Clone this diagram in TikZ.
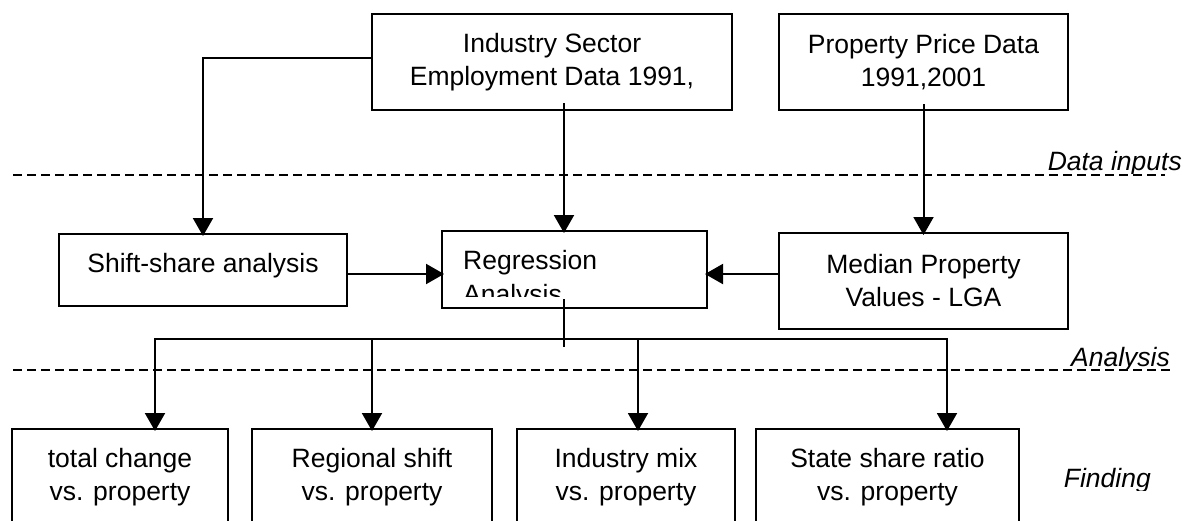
\documentclass[tikz,border=0pt]{standalone}
\usepackage{fontspec}
\setmainfont{Liberation Sans}
\usetikzlibrary{arrows.meta}
\begin{document}
\begin{tikzpicture}[x=1pt,y=-1pt,
  txt/.style={font=\fontsize{26.5}{33}\selectfont, inner sep=0pt},
  box/.style={txt, draw, line width=2pt, align=center},
  wire/.style={line width=2pt},
  arr/.style={wire, -{Triangle[length=18pt,width=20pt]}, shorten >=-3pt},
  sep/.style={line width=1.6pt, dash pattern=on 9pt off 5pt},
  tag/.style={txt, font=\fontsize{26.5}{33}\selectfont\itshape, anchor=base east}]

\useasboundingbox (0,0) rectangle (1188,520);
\fill[white] (0,0) rectangle (1188,520);
\clip (0,0) rectangle (1188,520);

% stage separators
\draw[sep] (13,175) -- (1165,175);
\draw[sep] (13,370) -- (1172,370);

% stage labels (descenders trimmed by their text frames)
\begin{scope}
  \clip (1000,140) rectangle (1188,173);
  \node[tag] (lblin) at (1182,170) {Data inputs};
\end{scope}
\begin{scope}
  \clip (1000,330) rectangle (1188,368);
  \node[tag] (lblan) at (1170,366) {Analysis};
\end{scope}
\begin{scope}
  \clip (1000,450) rectangle (1188,490);
  \node[tag] (lblfi) at (1151,487) {Finding};
\end{scope}

% data inputs
\node[box, minimum width=360pt, minimum height=96pt] (ind) at (552,62)
  {Industry Sector\\Employment Data 1991,};
\node[box, minimum width=289pt, minimum height=96pt] (prop) at (923.5,62)
  {Property Price Data\\1991,2001};

% analysis
\node[box, minimum width=288pt, minimum height=72pt, text depth=15pt] (shift) at (203,270)
  {Shift-share analysis};
\node[box, minimum width=265pt, minimum height=77pt] (reg) at (574.5,269.5) {};
\node[txt, anchor=base west] (regA) at (463,269) {Regression};
\begin{scope}
  \clip (442,231) rectangle (707,296);
  \node[txt, anchor=base west] (regB) at (463,303) {Analysis};
\end{scope}
\node[box, minimum width=289pt, minimum height=96pt] (med) at (923.5,281)
  {Median Property\\Values - LGA};

% findings
\node[box, minimum width=216pt, minimum height=96pt] (f1) at (120,477)
  {total change\\vs. property};
\node[box, minimum width=240pt, minimum height=96pt] (f2) at (372,477)
  {Regional shift\\vs. property};
\node[box, minimum width=218pt, minimum height=96pt] (f3) at (626,477)
  {Industry mix\\vs. property};
\node[box, minimum width=263pt, minimum height=96pt] (f4) at (887.5,477)
  {State share ratio\\vs. property};

% connectors into the analysis stage
\coordinate (ry) at (0,274);
\coordinate (p1) at (564,103);
\draw[arr] ([yshift=4pt]ind.west) -| (shift.north);
\draw[arr] (p1) -- (p1 |- reg.north);
\draw[arr] ([yshift=7pt]prop.south) -- (med.north);
\draw[arr] (shift.east |- ry) -- (reg.west |- ry);
\draw[arr] (med.west |- ry) -- (reg.east |- ry);

% regression output bus
\coordinate (s1) at (564,299);
\coordinate (s2) at (564,347);
\draw[wire] (s1) -- (s2);
\coordinate (bl) at (155,339);
\coordinate (b2) at (372,339);
\coordinate (b3) at (638,339);
\coordinate (br) at (947,339);
\draw[arr] (b2) -- (bl) -- (bl |- f1.north);
\draw[arr] (b2) -- (br) -- (br |- f4.north);
\draw[arr] (b2) -- (b2 |- f2.north);
\draw[arr] (b3) -- (b3 |- f3.north);
\end{tikzpicture}
\end{document}
